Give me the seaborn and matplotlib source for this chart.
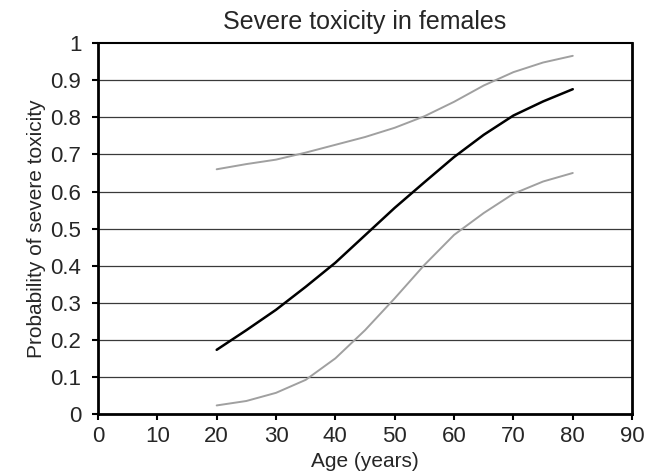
import pandas as pd
import matplotlib.pyplot as plt
import seaborn as sns

# values
age = [20, 25, 30, 35, 40, 45, 50, 55, 60, 65, 70, 75, 80]
prob_mid = [0.173, 0.226, 0.281, 0.343, 0.408, 0.482, 0.556, 0.625, 0.693, 0.753, 0.805, 0.843, 0.876]
prob_upper = [0.660, 0.674, 0.686, 0.705, 0.726, 0.747, 0.772, 0.803, 0.842, 0.886, 0.922, 0.948, 0.966]
prob_lower = [0.023, 0.035, 0.057, 0.092, 0.150, 0.226, 0.312, 0.402, 0.483, 0.542, 0.594, 0.627, 0.650]

x_ticks = list(range(0, 91, 10))
y_ticks = [round(i * 0.1, 1) for i in range(11)]
y_labels = ["0", "0.1", "0.2", "0.3", "0.4", "0.5", "0.6", "0.7", "0.8", "0.9", "1"]

sns.set_style("white")
plt.rcParams['font.family'] = ['Liberation Sans', 'DejaVu Sans']

df = pd.DataFrame({"age": age, "mid": prob_mid, "upper": prob_upper, "lower": prob_lower})

fig = plt.figure(figsize=(6.51, 4.75), dpi=100)
ax = fig.add_axes([0.1505, 0.1285, 0.8205, 0.7805])

# horizontal grid lines
for yv in y_ticks[1:-1]:
    ax.axhline(yv, color="#3a3a3a", linewidth=0.9, zorder=1)

sns.lineplot(data=df, x="age", y="upper", color="#a0a0a0", linewidth=1.4, ax=ax, zorder=2)
sns.lineplot(data=df, x="age", y="lower", color="#a0a0a0", linewidth=1.4, ax=ax, zorder=2)
sns.lineplot(data=df, x="age", y="mid", color="black", linewidth=1.8, ax=ax, zorder=3)

ax.set_xlim(0, 90)
ax.set_ylim(0, 1)
ax.set_xticks(x_ticks)
ax.set_yticks(y_ticks)
ax.set_yticklabels(y_labels)
ax.tick_params(axis="both", direction="out", length=4, width=1.5, color="black",
               labelsize=16, left=True, bottom=True)
ax.tick_params(axis="x", pad=5)
ax.tick_params(axis="y", pad=8)

for side in ["left", "bottom", "right"]:
    ax.spines[side].set_linewidth(2)
    ax.spines[side].set_color("black")
ax.spines["top"].set_linewidth(1.5)
ax.spines["top"].set_color("black")

ax.set_title("Severe toxicity in females", fontsize=18, pad=10)
ax.set_xlabel("Age (years)", fontsize=15, labelpad=3)
ax.set_ylabel("Probability of severe toxicity", fontsize=15, labelpad=3)

fig.savefig("out.png", dpi=100)
